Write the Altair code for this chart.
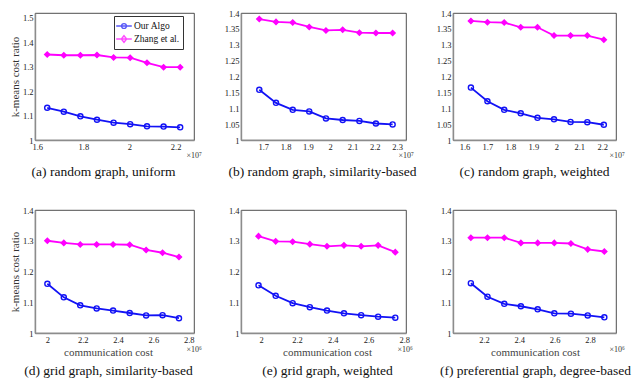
import altair as alt
import pandas as pd

SERIES = ["Our Algo", "Zhang et al."]
COLORS = ["#1212f5", "#ff00ff"]
FONT = "Liberation Serif"

# ---- data ----
x_a = [1.643, 1.715, 1.787, 1.859, 1.931, 2.003, 2.076, 2.148, 2.220]
ours_a = [1.132, 1.116, 1.097, 1.083, 1.071, 1.065, 1.056, 1.055, 1.052]
zhang_a = [1.350, 1.347, 1.347, 1.348, 1.338, 1.337, 1.316, 1.298, 1.298]

x_b = [1.682, 1.757, 1.832, 1.906, 1.981, 2.056, 2.131, 2.205, 2.280]
ours_b = [1.158, 1.117, 1.095, 1.090, 1.068, 1.063, 1.060, 1.052, 1.049]
zhang_b = [1.381, 1.372, 1.370, 1.356, 1.345, 1.347, 1.338, 1.337, 1.337]

x_c = [1.628, 1.700, 1.773, 1.845, 1.918, 1.990, 2.062, 2.135, 2.207]
ours_c = [1.165, 1.122, 1.095, 1.084, 1.070, 1.065, 1.057, 1.056, 1.048]
zhang_c = [1.375, 1.371, 1.370, 1.355, 1.355, 1.329, 1.329, 1.329, 1.316]

x_d = [2.000, 2.093, 2.186, 2.279, 2.372, 2.466, 2.559, 2.652, 2.745]
ours_d = [1.160, 1.116, 1.090, 1.080, 1.073, 1.065, 1.057, 1.058, 1.048]
zhang_d = [1.300, 1.293, 1.288, 1.288, 1.288, 1.287, 1.270, 1.261, 1.247]

x_e = [1.985, 2.081, 2.176, 2.272, 2.368, 2.463, 2.559, 2.654, 2.750]
ours_e = [1.155, 1.121, 1.097, 1.084, 1.073, 1.064, 1.058, 1.053, 1.050]
zhang_e = [1.315, 1.298, 1.297, 1.289, 1.282, 1.285, 1.282, 1.285, 1.263]

x_f = [2.126, 2.220, 2.315, 2.409, 2.504, 2.598, 2.692, 2.787, 2.881]
ours_f = [1.162, 1.118, 1.095, 1.087, 1.077, 1.064, 1.063, 1.057, 1.051]
zhang_f = [1.310, 1.310, 1.310, 1.293, 1.293, 1.293, 1.291, 1.272, 1.265]

xticks_a = [1.6, 1.8, 2, 2.2]
xticks_b = [1.7, 1.8, 1.9, 2, 2.1, 2.2, 2.3]
xticks_c = [1.6, 1.7, 1.8, 1.9, 2, 2.1, 2.2]
xticks_d = [2, 2.2, 2.4, 2.6, 2.8]
xticks_e = [2, 2.2, 2.4, 2.6, 2.8]
xticks_f = [2.2, 2.4, 2.6, 2.8]

yticks_a = [1, 1.1, 1.2, 1.3, 1.4, 1.5]
yticks_bc = [1, 1.05, 1.1, 1.15, 1.2, 1.25, 1.3, 1.35, 1.4]
yticks_def = [1, 1.1, 1.2, 1.3, 1.4]

captions = [
    "(a) random graph, uniform",
    "(b) random graph, similarity-based",
    "(c) random graph, weighted",
    "(d) grid graph, similarity-based",
    "(e) grid graph, weighted",
    "(f) preferential graph, degree-based",
]
Y_TITLE = "k-means cost ratio"
X_TITLE = "communication cost"
EXP7 = "\u00d710\u2077"
EXP6 = "\u00d710\u2076"

COL_W = [159, 165, 163]
ROW_H = [127, 123]

LEGEND_PATHS = [
    "M-1.3,0L1.3,0M0.4,0A0.4,0.4,0,1,1,-0.4,0A0.4,0.4,0,1,1,0.4,0",
    "M-1.3,0L1.3,0M0,-0.55L0.45,0L0,0.55L-0.45,0Z",
]


def panel(x, ours, zhang, xdom, xticks, ydom, yticks, width, height,
          caption, exp_label, exp_dx, bottom_row, ytitle, legend, dx):
    n = len(x)
    df = pd.DataFrame({
        "x": list(x) + list(x),
        "y": list(ours) + list(zhang),
        "series": [SERIES[0]] * n + [SERIES[1]] * n,
    })
    xaxis = alt.Axis(values=xticks, format="~g", title=exp_label,
                     titleX=width + exp_dx, titleY=16 if bottom_row else 15,
                     titleAlign="left", titleBaseline="middle",
                     titleFontSize=8, titleFontWeight="normal",
                     titleColor="#333", titleFont=FONT)
    ykw = dict(values=yticks, format="~g")
    if ytitle:
        ykw.update(title=ytitle, titleFontSize=11, titleFontWeight="normal",
                   titleColor="#333", titleFont=FONT, titlePadding=2)
    else:
        ykw.update(title=None)
    X = alt.X("x:Q", scale=alt.Scale(domain=xdom, nice=False, zero=False), axis=xaxis)
    Y = alt.Y("y:Q", scale=alt.Scale(domain=ydom, nice=False, zero=False), axis=alt.Axis(**ykw))
    cscale = alt.Scale(domain=SERIES, range=COLORS)
    if legend:
        C = alt.Color("series:N", scale=cscale)
    else:
        C = alt.Color("series:N", scale=cscale, legend=None)
    base = alt.Chart(df)
    lines = base.mark_line(strokeWidth=1.8).encode(x=X, y=Y, color=C)
    is_ours = "datum.series == 'Our Algo'"
    pts = base.mark_point(size=26, strokeWidth=1.4, opacity=1).encode(
        x=X, y=Y, color=C,
        shape=alt.condition(is_ours, alt.value("circle"), alt.value("diamond")),
        fill=alt.condition(is_ours, alt.value("transparent"), alt.value("#ff00ff")),
    )
    layers = [lines, pts]
    if legend:
        lg = dict(title=None, orient="none", legendX=width - 80, legendY=3,
                  fillColor="white", strokeColor="#333", padding=3,
                  labelFont=FONT, labelFontSize=9.5, labelColor="#111",
                  symbolSize=144, symbolStrokeWidth=1.4, rowPadding=0, labelOffset=3)
        leg = base.transform_filter("false").mark_point(filled=False, strokeWidth=1.4).encode(
            x=X, y=Y,
            color=alt.Color("series:N", scale=cscale, legend=alt.Legend(**lg)),
            shape=alt.Shape("series:N", scale=alt.Scale(domain=SERIES, range=LEGEND_PATHS),
                            legend=alt.Legend(**lg)),
        )
        layers = [leg] + layers
    if bottom_row:
        title = alt.TitleParams(text=X_TITLE, subtitle=caption, orient="bottom",
                                font=FONT, fontSize=11, fontWeight="normal", color="#444",
                                subtitleFont=FONT, subtitleFontSize=13.5, subtitleColor="#111",
                                subtitlePadding=6, offset=-6, dx=dx, frame="group",
                                anchor="middle")
    else:
        title = alt.TitleParams(text=caption, orient="bottom", font=FONT, fontSize=13.5,
                                fontWeight="normal", color="#111", offset=6, dx=dx,
                                frame="group", anchor="middle")
    return alt.layer(*layers).properties(width=width, height=height, title=title)


pa = panel(x_a, ours_a, zhang_a, [1.59, 2.28], xticks_a, [1, 1.52], yticks_a,
           COL_W[0], ROW_H[0], captions[0], EXP7, -8, False, Y_TITLE, True, -11)
pb = panel(x_b, ours_b, zhang_b, [1.60, 2.34], xticks_b, [1, 1.4], yticks_bc,
           COL_W[1], ROW_H[0], captions[1], EXP7, -8, False, None, False, -1)
pc = panel(x_c, ours_c, zhang_c, [1.55, 2.26], xticks_c, [1, 1.4], yticks_bc,
           COL_W[2], ROW_H[0], captions[2], EXP7, -7, False, None, False, 0)
pd_ = panel(x_d, ours_d, zhang_d, [1.93, 2.83], xticks_d, [1, 1.4], yticks_def,
            COL_W[0], ROW_H[1], captions[3], EXP6, -8, True, Y_TITLE, False, -6)
pe = panel(x_e, ours_e, zhang_e, [1.887, 2.81], xticks_e, [1, 1.4], yticks_def,
           COL_W[1], ROW_H[1], captions[4], EXP6, -9, True, None, False, 4)
pf = panel(x_f, ours_f, zhang_f, [2.025, 2.947], xticks_f, [1, 1.4], yticks_def,
           COL_W[2], ROW_H[1], captions[5], EXP6, -7, True, None, False, 1)

chart = alt.concat(pa, pb, pc, pd_, pe, pf, columns=3,
                   spacing={"row": 70, "column": 47}, bounds="flush").resolve_scale(
    color="independent", shape="independent"
).resolve_legend(color="independent", shape="independent").properties(
    padding={"left": 0, "top": 0, "right": 0, "bottom": 0},
    background="white",
).configure_view(stroke="#222", strokeWidth=0.8).configure_axis(
    domainColor="#8c8c8c", domainWidth=1.4, ticks=False, grid=False,
    labelFont=FONT, labelFontSize=8.5, labelColor="#222", labelPadding=2,
)

chart.save("out.html", embed_options={"renderer": "svg", "actions": False})
